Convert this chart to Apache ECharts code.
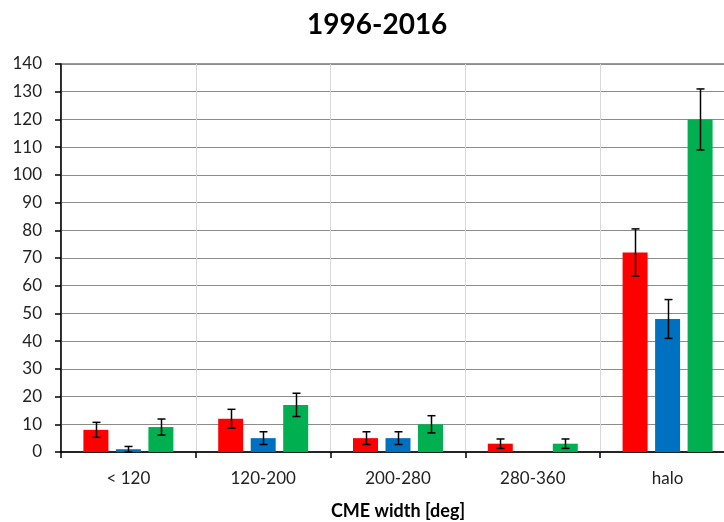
<!DOCTYPE html>
<html>
<head>
<meta charset="utf-8">
<script src="https://cdn.jsdelivr.net/npm/echarts@6/dist/echarts.min.js"></script>
<style>
  html, body { margin: 0; padding: 0; background: #fff; }
  #chart { width: 724px; height: 522px; }
</style>
</head>
<body>
<div id="chart"></div>
<script>
// CME width bins
const categories = ['< 120', '120-200', '200-280', '280-360', 'halo']
const seriesNames = ['A', 'B', 'C']
const seriesColors = ['#ff0000', '#0070c0', '#00b050']

// bar heights
const redValues = [8, 12, 5, 3, 72]
const blueValues = [1, 5, 5, 0, 48]
const greenValues = [9, 17, 10, 3, 120]

// symmetric error (+/-)
const redErrors = [2.7, 3.4, 2.3, 1.7, 8.5]
const blueErrors = [1, 2.3, 2.3, 0, 7]
const greenErrors = [2.9, 4.2, 3.1, 1.7, 11]

const yTicks = [0, 140, 10]

const values = [redValues, blueValues, greenValues]
const errors = [redErrors, blueErrors, greenErrors]

const font = 'Lato, "Open Sans", sans-serif'
const barWidth = 25
const barStep = 32.5 // center to center

const chart = echarts.init(document.getElementById('chart'))

const errorSeries = values.map((vals, s) => ({
  type: 'custom',
  name: seriesNames[s] + ' err',
  silent: true,
  z: 10,
  data: vals.map((v, i) => [i, v, errors[s][i]]),
  renderItem: (params, api) => {
    const err = api.value(2)
    if (!err) return null
    const idx = api.value(0)
    const v = api.value(1)
    const off = (s - 1) * barStep
    const top = api.coord([idx, v + err])
    const bot = api.coord([idx, Math.max(v - err, 0)])
    const x = Math.round(top[0] + off) + 0.5
    const cap = 4
    const style = { stroke: '#000', lineWidth: 1.5 }
    return {
      type: 'group',
      children: [
        { type: 'line', shape: { x1: x, y1: top[1], x2: x, y2: bot[1] }, style },
        { type: 'line', shape: { x1: x - cap, y1: top[1], x2: x + cap, y2: top[1] }, style },
        { type: 'line', shape: { x1: x - cap, y1: bot[1], x2: x + cap, y2: bot[1] }, style }
      ]
    }
  }
}))

const option = {
  animation: false,
  title: {
    text: '1996-2016',
    left: 302,
    top: 6,
    textStyle: { fontFamily: font, fontSize: 28, fontWeight: 'bold', color: '#000' }
  },
  grid: {
    left: 61,
    top: 64,
    height: 388,
    width: 674,
    outerBoundsMode: 'none',
    show: true,
    borderColor: '#333',
    borderWidth: 1
  },
  xAxis: {
    type: 'category',
    data: categories,
    name: 'CME width [deg]',
    nameLocation: 'middle',
    nameGap: 50,
    nameTextStyle: { fontFamily: font, fontSize: 18, fontWeight: 'bold', color: '#000' },
    axisLine: { lineStyle: { color: '#000', width: 1.5 } },
    axisTick: { show: true, length: 6, lineStyle: { color: '#000', width: 1.5 } },
    axisLabel: { fontFamily: font, fontSize: 17, color: '#222', margin: 18 },
    splitLine: { show: true, lineStyle: { color: '#d9d9d9', width: 1 } }
  },
  yAxis: {
    type: 'value',
    min: yTicks[0],
    max: yTicks[1],
    interval: yTicks[2],
    axisLine: { show: true, lineStyle: { color: '#000', width: 1.5 } },
    axisTick: { show: true, length: 6, lineStyle: { color: '#000', width: 1.5 } },
    axisLabel: { fontFamily: font, fontSize: 17, color: '#222', margin: 19 },
    splitLine: { show: true, lineStyle: { color: '#8c8c8c', width: 1 } }
  },
  series: values.map((vals, s) => ({
    type: 'bar',
    name: seriesNames[s],
    data: vals,
    barWidth: barWidth,
    barGap: '30%',
    itemStyle: { color: seriesColors[s] }
  })).concat(errorSeries)
}

chart.setOption(option)
</script>
</body>
</html>
